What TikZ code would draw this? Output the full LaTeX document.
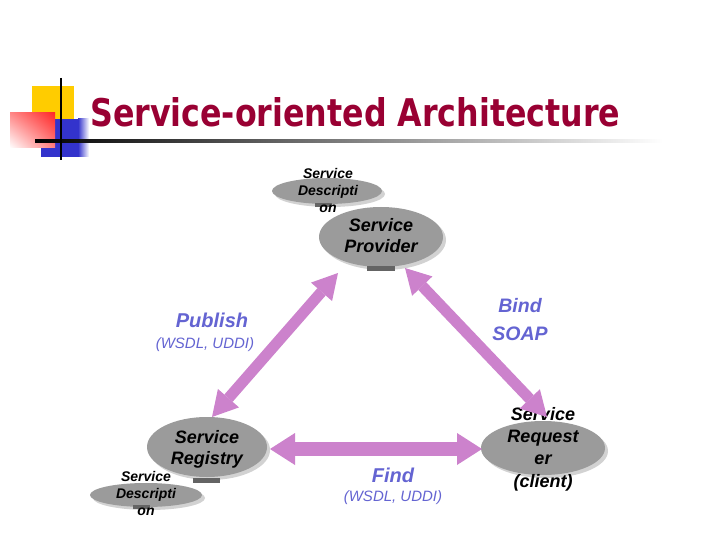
\documentclass[tikz,border=0pt]{standalone}
\usepackage{fontspec}
\usepackage{graphicx}
\setmainfont{Liberation Sans}
\newfontfamily\titlefont{DejaVu Sans}
\usetikzlibrary{shapes.geometric,arrows.meta,shadings}
\definecolor{titlered}{RGB}{153,0,51}
\definecolor{pinkarrow}{RGB}{204,130,204}
\definecolor{labelblue}{RGB}{100,100,210}
\definecolor{ellgray}{RGB}{155,155,155}
\definecolor{shadowgray}{RGB}{210,210,210}
\definecolor{rimgray}{RGB}{100,100,100}
\definecolor{sqyellow}{RGB}{255,204,0}
\definecolor{sqblue}{RGB}{51,51,204}
\definecolor{sqred}{RGB}{255,40,40}
\begin{document}
\begin{tikzpicture}[x=1pt,y=-1pt,
  ell/.style={ellipse, fill=ellgray, inner sep=0pt},
  shadowell/.style={ellipse, fill=shadowgray, inner sep=0pt},
  rim/.style={fill=rimgray},
  elltext/.style={font=\bfseries\itshape\fontsize{18}{21}\selectfont, align=center, inner sep=0pt, text=black},
  desctext/.style={font=\bfseries\itshape\fontsize{14}{17}\selectfont, align=center, inner sep=0pt, text=black},
  lblbold/.style={font=\bfseries\itshape\fontsize{20}{24}\selectfont, text=labelblue, inner sep=0pt},
  lblit/.style={font=\bfseries\itshape\fontsize{19.5}{24}\selectfont, text=labelblue, inner sep=0pt},
  lblsub/.style={font=\itshape\fontsize{15}{18}\selectfont, text=labelblue, inner sep=0pt},
  diagarrow/.style={draw=pinkarrow, line width=11pt,
    {Triangle[length=25pt,width=28pt,line width=0pt]}-{Triangle[length=25pt,width=28pt,line width=0pt]}},
  flatarrow/.style={draw=pinkarrow, line width=14pt,
    {Triangle[length=25pt,width=32pt,line width=0pt]}-{Triangle[length=25pt,width=32pt,line width=0pt]}}
]
\useasboundingbox (0,0) rectangle (720,540);
\fill[white] (0,0) rectangle (720,540);

% title decoration
\fill[sqyellow] (32,86) rectangle (74,119);
\fill[sqblue] (41,119) rectangle (78,157);
\shade[left color=sqblue, right color=white] (78,119) rectangle (89,157);
\shade[upper right=sqred, upper left=sqred!55, lower right=sqred!60, lower left=white] (10,113) rectangle (55,148);
\shade[left color=black, middle color=black!55, right color=white] (35,139.5) rectangle (663,142.5);
\draw[line width=2pt] (61,78) -- (61,160);
\node[anchor=base west, inner sep=0pt, text=titlered] (title) at (90,127)
  {\resizebox{530pt}{29pt}{\titlefont\bfseries Service-oriented Architecture}};

% ellipses: shadows
\node[shadowell, minimum width=110pt, minimum height=26pt] (descAshadow) at (330,194) {};
\node[shadowell, minimum width=124pt, minimum height=60pt] (provshadow) at (384,240) {};
\node[shadowell, minimum width=120pt, minimum height=60pt] (regshadow) at (210,450) {};
\node[shadowell, minimum width=112pt, minimum height=24pt] (descBshadow) at (149,498) {};
\node[shadowell, minimum width=124pt, minimum height=54pt] (reqshadow) at (546,451) {};
% ellipses
\node[ell, minimum width=110pt, minimum height=26pt] (descA) at (327,191) {};
\node[ell, minimum width=124pt, minimum height=60pt] (prov) at (381,237) {};
\node[ell, minimum width=120pt, minimum height=60pt] (reg) at (207,447) {};
\node[ell, minimum width=112pt, minimum height=24pt] (descB) at (146,495) {};
\node[ell, minimum width=124pt, minimum height=54pt] (req) at (543,448) {};
% dark rims
\fill[rim] (315,203) rectangle (332,207);
\fill[rim] (367,266) rectangle (395,271);
\fill[rim] (193,478) rectangle (220,483);
\fill[rim] (133,505) rectangle (150,509);

% texts of ellipses
\node[desctext] (descAtext) at (328,190) {Service\\Descripti\\on};
\node[elltext] (provtext) at (381,236) {Service\\Provider};
\node[elltext] (regtext) at (207,449) {Service\\Registry};
\node[desctext] (descBtext) at (146,493) {Service\\Descripti\\on};
\node[elltext, font=\bfseries\itshape\fontsize{18}{22.3}\selectfont] (reqtext) at (543,449) {Service\\Request\\er\\(client)};

% arrows
\coordinate (a1) at (338,273);
\coordinate (a2) at (212,417);
\coordinate (b1) at (405,268);
\coordinate (b2) at (547,417);
\coordinate (c1) at (270,449);
\coordinate (c2) at (482,449);
\draw[diagarrow] (a1) -- (a2);
\draw[diagarrow] (b1) -- (b2);
\draw[flatarrow] (c1) -- (c2);

% labels
\node[lblbold] (publish) at (212,320) {Publish};
\node[lblsub] (publishsub) at (205,345) {(WSDL, UDDI)};
\node[lblit] (bind) at (520,306) {Bind};
\node[lblit] (soap) at (520,334) {SOAP};
\node[lblbold] (find) at (393,475) {Find};
\node[lblsub] (findsub) at (393,498) {(WSDL, UDDI)};
\end{tikzpicture}
\end{document}
